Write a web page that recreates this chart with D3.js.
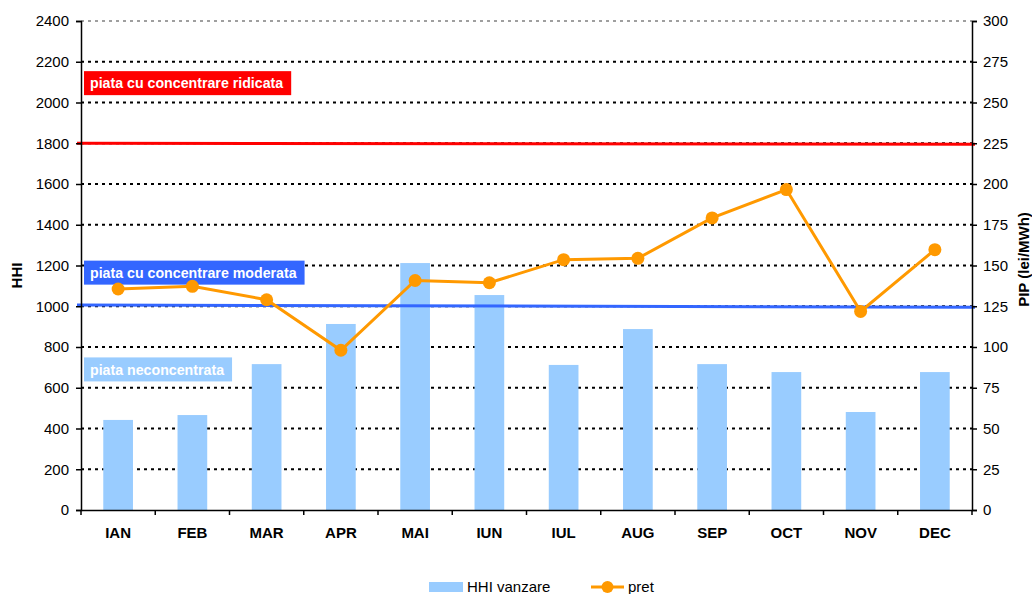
<!DOCTYPE html>
<html>
<head>
<meta charset="utf-8">
<script src="https://cdn.jsdelivr.net/npm/d3@7/dist/d3.min.js"></script>
<style>
	body { margin: 0; background: #fff; }
	svg { display: block; font-family: "Liberation Sans", Arial, sans-serif; }
</style>
</head>
<body>
<div id="chart"></div>
<script>
	// DATA
	const months = ["IAN", "FEB", "MAR", "APR", "MAI", "IUN", "IUL", "AUG", "SEP", "OCT", "NOV", "DEC"];
	const hhiVanzare = [442, 466, 716, 913, 1212, 1055, 712, 888, 716, 677, 481, 677];
	const pret = [135.6, 137.2, 129, 98, 140.8, 139.4, 153.6, 154.4, 179.2, 196.6, 121.8, 159.7];
	const hhiTicks = [0, 200, 400, 600, 800, 1000, 1200, 1400, 1600, 1800, 2000, 2200, 2400];
	const pipTicks = [0, 25, 50, 75, 100, 125, 150, 175, 200, 225, 250, 275, 300];
	// threshold lines: value at the left edge, value at the right edge
	const pragRidicat = [1800, 1795];
	const pragModerat = [1006, 995];
	const zoneLabels = [
		{ text: "piata cu concentrare ridicata", hhi: 2095, color: "#FF0000" },
		{ text: "piata cu concentrare moderata", hhi: 1165, color: "#3366FF" },
		{ text: "piata neconcentrata", hhi: 690, color: "#99CCFF" }
	];
	const legendItems = ["HHI vanzare", "pret"];

	const width = 1032, height = 594;
	const margin = { top: 21, right: 60, bottom: 84, left: 81 };
	const innerWidth = width - margin.left - margin.right;
	const innerHeight = height - margin.top - margin.bottom;
	const font = "'Liberation Sans', Arial, sans-serif";

	const svg = d3.select("#chart").append("svg")
		.attr("width", width)
		.attr("height", height);
	const g = svg.append("g")
		.attr("transform", `translate(${margin.left},${margin.top})`);

	const xScale = d3.scaleBand()
		.domain(months)
		.range([0, innerWidth])
		.padding(0);
	const yLeft = d3.scaleLinear().domain([0, 2400]).range([innerHeight, 0]);
	const yRight = d3.scaleLinear().domain([0, 300]).range([innerHeight, 0]);

	// gridlines
	g.append("g")
		.selectAll("line")
		.data(hhiTicks.filter(d => d > 0))
		.enter().append("line")
		.attr("x1", 0)
		.attr("x2", innerWidth)
		.attr("y1", d => yLeft(d))
		.attr("y2", d => yLeft(d))
		.attr("stroke", d => d == 2400 ? "#808080" : "#000")
		.attr("stroke-width", d => d == 2400 ? 1.5 : 2)
		.attr("stroke-dasharray", "3,4");

	// bars
	const barW = xScale.bandwidth() * 0.4;
	g.append("g")
		.selectAll("rect")
		.data(hhiVanzare)
		.enter().append("rect")
		.attr("x", (d, i) => xScale(months[i]) + (xScale.bandwidth() - barW) / 2)
		.attr("y", d => yLeft(d))
		.attr("width", barW)
		.attr("height", d => innerHeight - yLeft(d))
		.attr("fill", "#99CCFF");

	// zone labels
	const zones = g.append("g");
	zoneLabels.forEach(z => {
		const zg = zones.append("g");
		const txt = zg.append("text")
			.attr("x", 9)
			.attr("y", yLeft(z.hhi))
			.attr("dy", "0.36em")
			.attr("fill", "#fff")
			.attr("font-weight", "bold")
			.attr("font-size", "14.2px")
			.text(z.text);
		const w = txt.node().getComputedTextLength();
		zg.insert("rect", "text")
			.attr("x", 3)
			.attr("y", yLeft(z.hhi) - 12)
			.attr("width", w + 14)
			.attr("height", 24)
			.attr("fill", z.color);
	});

	// threshold lines
	const thresh = [[pragRidicat, "#FF0000"], [pragModerat, "#3366FF"]];
	thresh.forEach(t => {
		g.append("line")
			.attr("x1", -4)
			.attr("x2", innerWidth + 3)
			.attr("y1", yLeft(t[0][0]))
			.attr("y2", yLeft(t[0][1]))
			.attr("stroke", t[1])
			.attr("stroke-width", 3);
	});

	// price line
	const cx = i => xScale(months[i]) + xScale.bandwidth() / 2;
	const line = d3.line()
		.x((d, i) => cx(i))
		.y(d => yRight(d));
	g.append("path")
		.datum(pret)
		.attr("d", line)
		.attr("fill", "none")
		.attr("stroke", "#FF9900")
		.attr("stroke-width", 3);
	g.append("g")
		.selectAll("circle")
		.data(pret)
		.enter().append("circle")
		.attr("cx", (d, i) => cx(i))
		.attr("cy", d => yRight(d))
		.attr("r", 6.5)
		.attr("fill", "#FF9900");

	// AXES
	const leftAxis = d3.axisLeft(yLeft).tickValues(hhiTicks).tickFormat(d3.format("d")).tickSize(5).tickPadding(7);
	const rightAxis = d3.axisRight(yRight).tickValues(pipTicks).tickFormat(d3.format("d")).tickSize(5).tickPadding(6);
	const bottomAxis = d3.axisBottom(xScale).tickSize(0).tickPadding(17);

	const yAxisG = g.append("g").call(leftAxis);
	const y2AxisG = g.append("g").attr("transform", `translate(${innerWidth},0)`).call(rightAxis);
	const xAxisG = g.append("g").attr("transform", `translate(0,${innerHeight})`).call(bottomAxis);

	[yAxisG, y2AxisG, xAxisG].forEach(a => {
		a.attr("font-size", null).attr("font-family", null);
		a.select(".domain").attr("stroke", "#000").attr("stroke-width", 1.5);
		a.selectAll(".tick line").attr("stroke", "#000").attr("stroke-width", 1.5);
		a.selectAll("text").attr("fill", "#000")
			.style("font-size", "15px")
			.style("font-family", font);
	});
	xAxisG.selectAll("text").attr("font-weight", "bold");

	// x ticks at category boundaries
	xAxisG.append("g")
		.selectAll("line")
		.data(d3.range(months.length + 1))
		.enter().append("line")
		.attr("x1", i => i * xScale.step())
		.attr("x2", i => i * xScale.step())
		.attr("y1", 0)
		.attr("y2", 5)
		.attr("stroke", "#000")
		.attr("stroke-width", 1.5);

	// axis titles
	svg.append("text")
		.attr("transform", `translate(22,${margin.top + innerHeight / 2 + 10}) rotate(-90)`)
		.attr("text-anchor", "middle")
		.attr("font-weight", "bold")
		.attr("font-size", "15px")
		.text("HHI");
	svg.append("text")
		.attr("transform", `translate(1029,${margin.top + innerHeight / 2 - 6}) rotate(-90)`)
		.attr("text-anchor", "middle")
		.attr("font-weight", "bold")
		.attr("font-size", "15px")
		.text("PIP (lei/MWh)");

	// legend
	const legend = svg.append("g").attr("transform", "translate(0,587)");
	legend.append("rect")
		.attr("x", 429).attr("y", -5)
		.attr("width", 34).attr("height", 10)
		.attr("fill", "#99CCFF");
	legend.append("text")
		.attr("x", 467).attr("y", 0).attr("dy", "0.35em")
		.attr("font-size", "15px")
		.text(legendItems[0]);
	legend.append("line")
		.attr("x1", 591).attr("x2", 624)
		.attr("y1", 0).attr("y2", 0)
		.attr("stroke", "#FF9900").attr("stroke-width", 3);
	legend.append("circle")
		.attr("cx", 607.5).attr("cy", 0).attr("r", 6)
		.attr("fill", "#FF9900");
	legend.append("text")
		.attr("x", 628).attr("y", 0).attr("dy", "0.35em")
		.attr("font-size", "15px")
		.text(legendItems[1]);
</script>
</body>
</html>
